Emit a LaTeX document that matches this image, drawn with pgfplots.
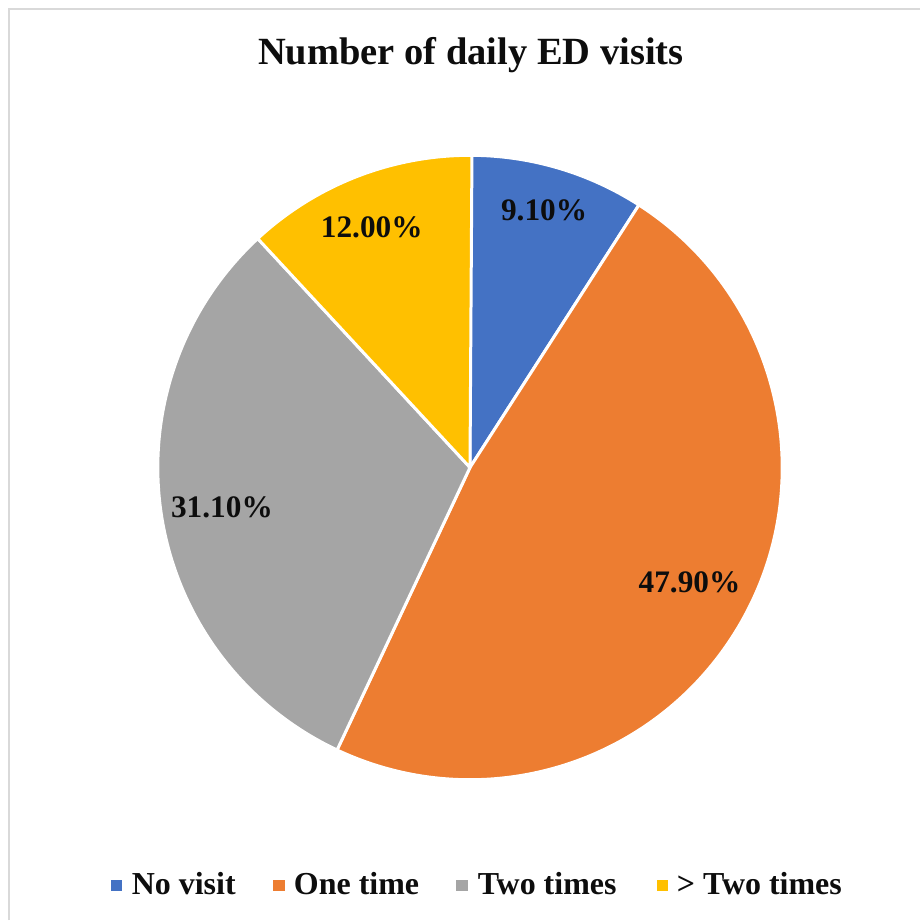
\documentclass[border=0pt]{standalone}
\usepackage{pgfplots}
\pgfplotsset{compat=1.18}
\usepackage{pgfplotstable}
\usepackage{fontspec}
\setmainfont{Liberation Serif}
\definecolor{cBlue}{HTML}{4472C4}
\definecolor{cOrange}{HTML}{ED7D31}
\definecolor{cGray}{HTML}{A5A5A5}
\definecolor{cYellow}{HTML}{FFC000}
\definecolor{frameGray}{HTML}{D9D9D9}
\definecolor{txt}{HTML}{0D0D0D}
\newcommand\pieslice[3]{\filldraw[fill=#1, draw=white, line width=2.25pt, line join=round] (axis cs:470.5,468) -- ++(#2:234.4pt) arc[start angle=#2, end angle=#3, radius=234.4pt] -- cycle;}
\pgfplotstableread{
slice value
1 9.1
2 47.9
3 31.1
4 12.0
}\piedata
\pgfplotstablegetelem{0}{value}\of\piedata\edef\vA{\pgfplotsretval}
\pgfplotstablegetelem{1}{value}\of\piedata\edef\vB{\pgfplotsretval}
\pgfplotstablegetelem{2}{value}\of\piedata\edef\vC{\pgfplotsretval}
\pgfplotstablegetelem{3}{value}\of\piedata\edef\vD{\pgfplotsretval}
\pgfmathsetmacro\aA{90}
\pgfmathsetmacro\aB{\aA-3.6*\vA}
\pgfmathsetmacro\aC{\aB-3.6*\vB}
\pgfmathsetmacro\aD{\aC-3.6*\vC}
\pgfmathsetmacro\aE{\aD-3.6*\vD}
\begin{document}%
\begin{tikzpicture}
\begin{axis}[hide axis, scale only axis, width=690.75pt, height=690pt,
  xmin=0, xmax=921, ymin=0, ymax=920, y dir=reverse, clip=false]
\path (axis cs:0,0) rectangle (axis cs:921,920);
\draw[color=frameGray, line width=1.5pt] (axis cs:9,921) -- (axis cs:9,9) -- (axis cs:921,9);
\node[anchor=base, inner sep=0pt, text=txt, font=\bfseries\fontsize{28.9}{34}\selectfont] at (axis cs:471.5,65) {Number of daily ED visits};
\pieslice{cBlue}{\aA}{\aB}
\pieslice{cOrange}{\aB}{\aC}
\pieslice{cGray}{\aC}{\aD}
\pieslice{cYellow}{\aD}{\aE}
\begin{scope}[every node/.style={anchor=base, inner sep=0pt, text=txt, font=\bfseries\fontsize{23.5}{28}\selectfont}]
\node at (axis cs:544.7,221) {9.10\%};
\node at (axis cs:690.3,592.7) {47.90\%};
\node at (axis cs:222.2,517.7) {31.10\%};
\node at (axis cs:372.2,237.7) {12.00\%};
\end{scope}
\begin{scope}[every node/.style={anchor=base west, inner sep=0pt, text=txt, font=\bfseries\fontsize{24}{28}\selectfont}]
\fill[cBlue] (axis cs:110.7,880.7) rectangle (axis cs:122.3,892.3);
\node at (axis cs:131.7,895.7) {No visit};
\fill[cOrange] (axis cs:273.3,880.7) rectangle (axis cs:285,892.3);
\node at (axis cs:294,895.7) {One time};
\fill[cGray] (axis cs:456.7,880.7) rectangle (axis cs:468.3,892.3);
\node at (axis cs:478,895.7) {Two times};
\fill[cYellow] (axis cs:657.3,880.7) rectangle (axis cs:668.7,892.3);
\node at (axis cs:677.3,895.7) {> Two times};
\end{scope}
\end{axis}
\end{tikzpicture}%
\end{document}
